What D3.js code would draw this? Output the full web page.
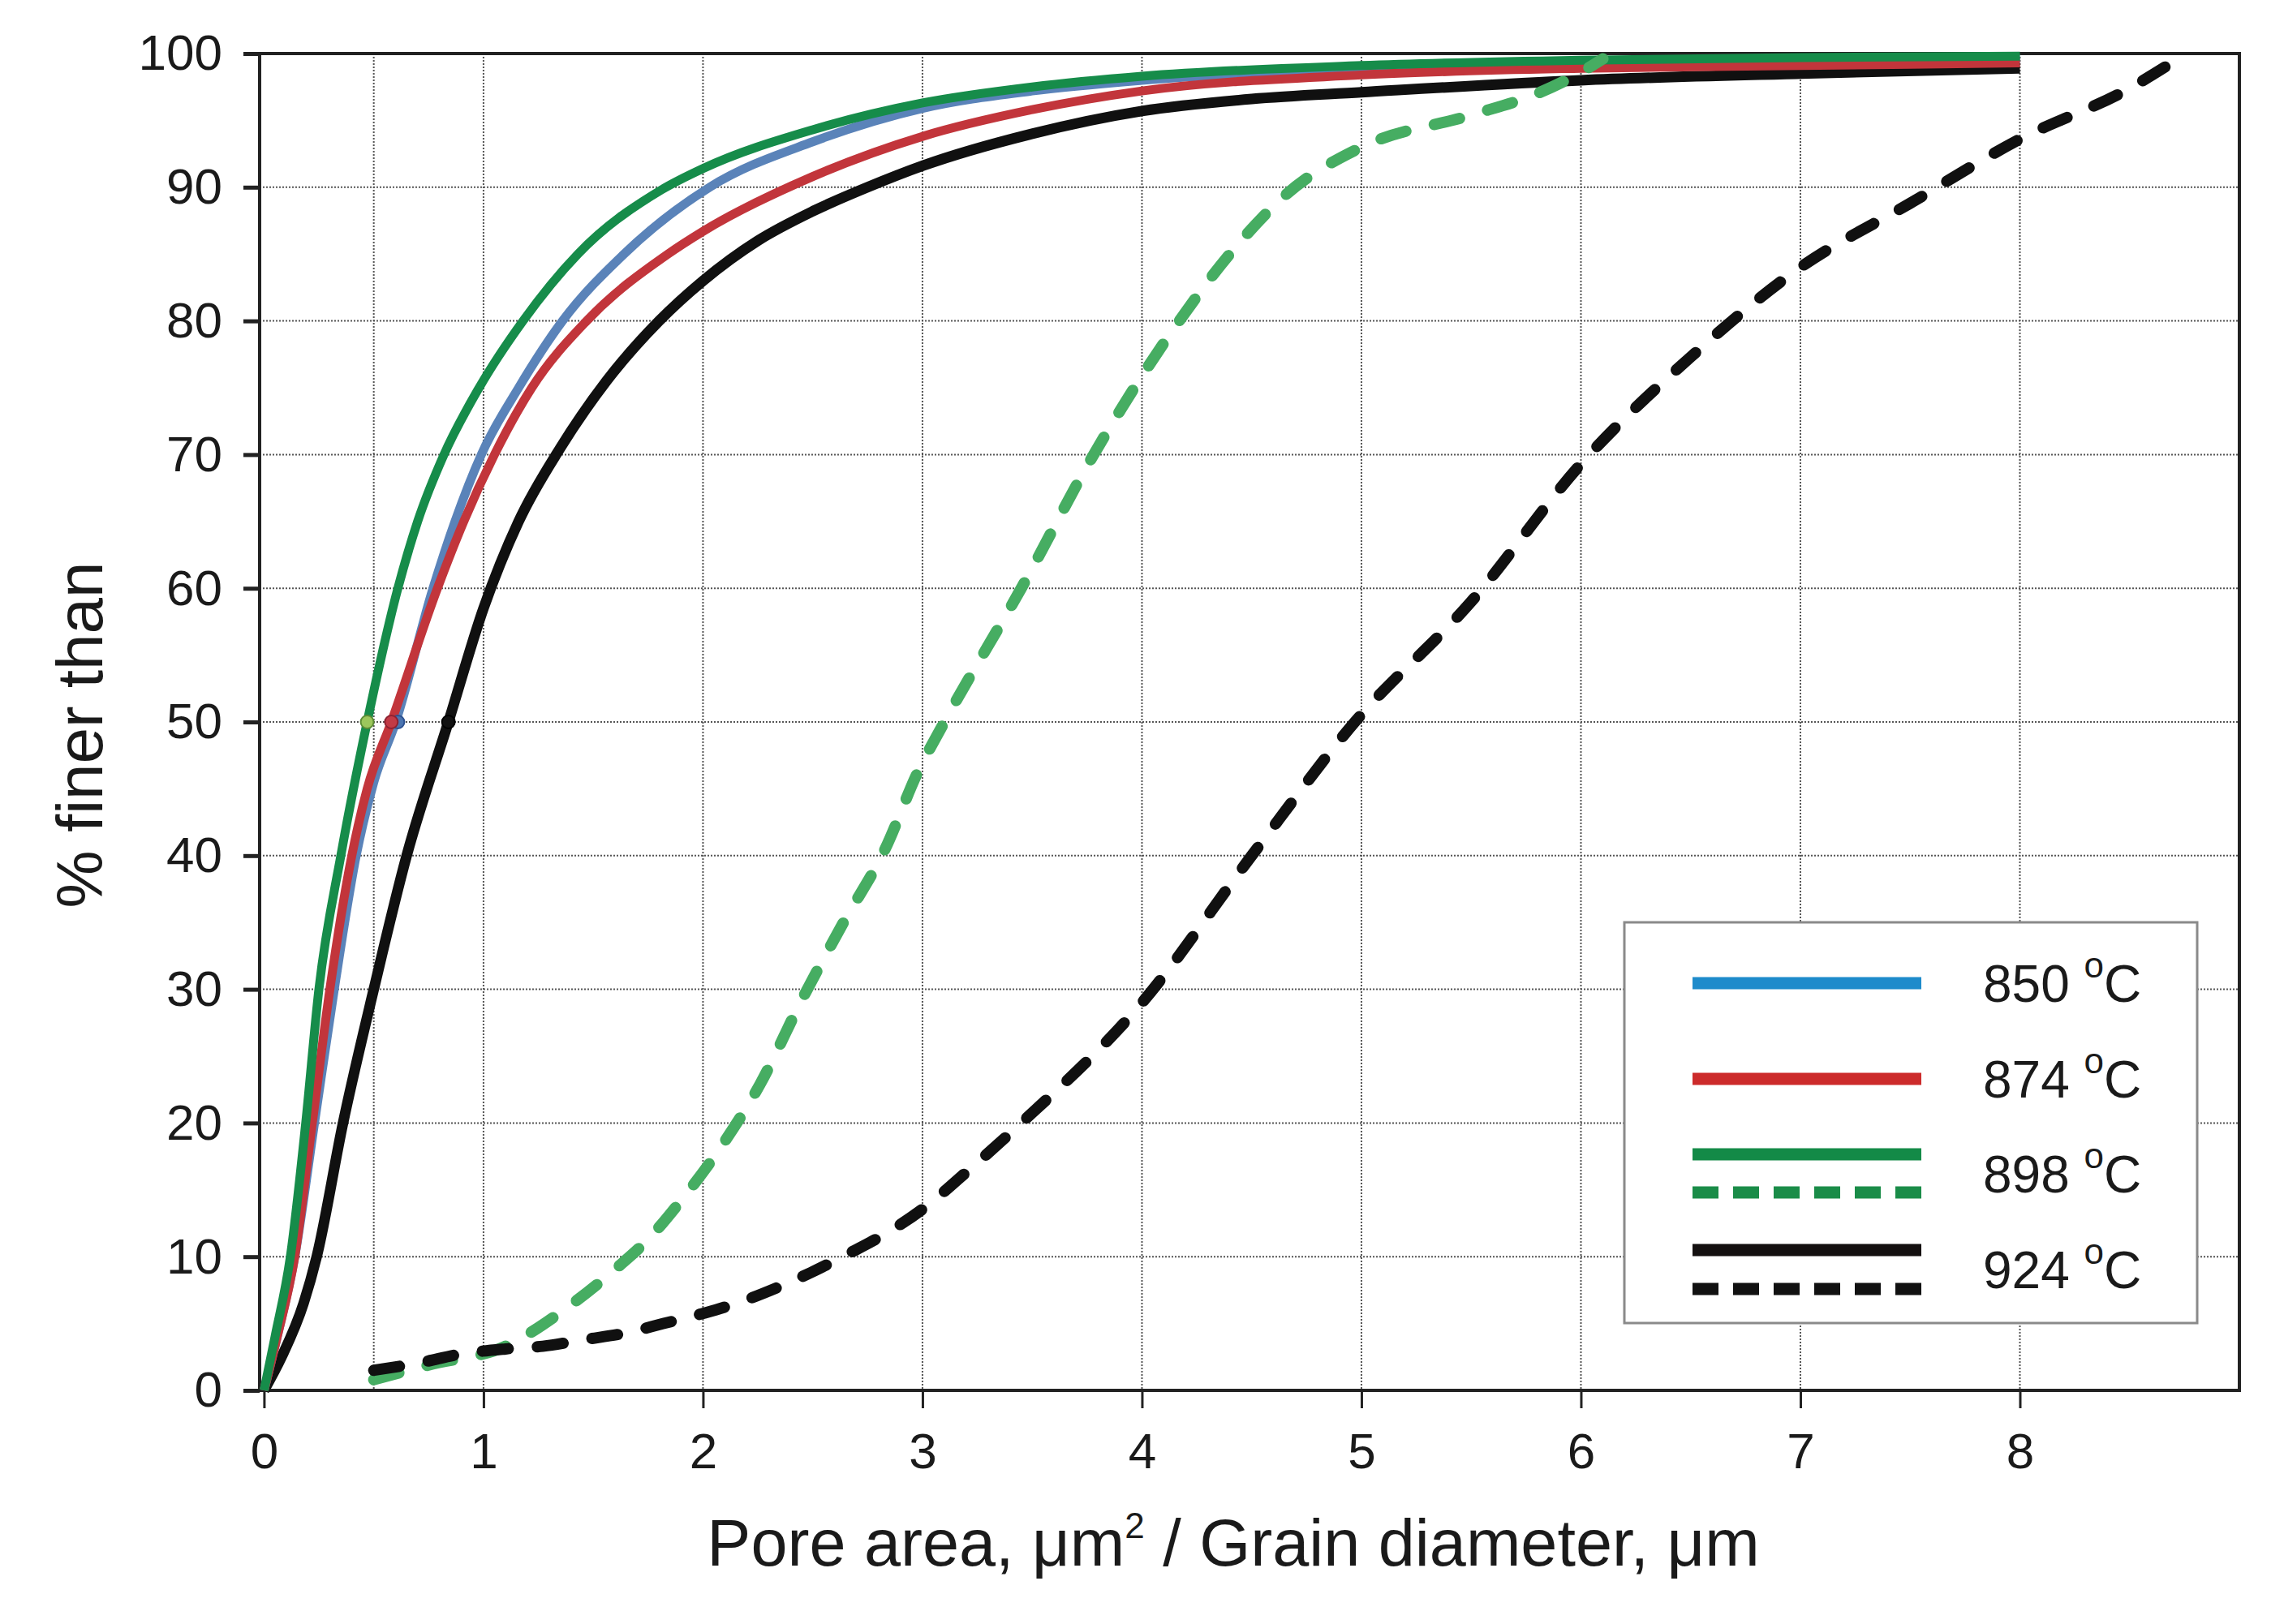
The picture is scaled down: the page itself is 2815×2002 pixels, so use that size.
<!DOCTYPE html>
<html>
<head>
<meta charset="utf-8">
<script src="https://cdn.jsdelivr.net/npm/d3@7"></script>
<style>
  body { margin: 0; background: #fff; }
  text { font-family: "Liberation Sans", Arial, sans-serif; fill: #1a1a1a; }
</style>
</head>
<body>
<script>
// chart size (matches the photographed window)
var width = 2815,
    height = 2002;

// ---- data ----
var xTicks = [0, 1, 2, 3, 4, 5, 6, 7, 8];
var yTicks = [0, 10, 20, 30, 40, 50, 60, 70, 80, 90, 100];
var gridX = [0.5, 1, 2, 3, 4, 5, 6, 7, 8];
var gridY = [10, 20, 30, 40, 50, 60, 70, 80, 90];

// 850 C, pore area
var pore850 = [[0,0],[0.06,4],[0.14,10],[0.23,20],[0.32,30],[0.42,40],[0.50,45.5],[0.60,50],[0.77,60],[0.87,65],[0.99,70],
  [1.16,75],[1.36,80],[1.64,85],[2.03,90],[2.5,93.4],[3,95.9],[3.5,97.2],[4,98.0],[5,98.9],[6,99.3],[7,99.5],[8,99.6]];
// 874 C, pore area
var pore874 = [[0,0],[0.06,4],[0.14,10],[0.22,20],[0.30,30],[0.40,40],[0.47,45],[0.58,50],[0.79,60],[0.91,65],[1.05,70],
  [1.22,75],[1.47,80],[1.84,85],[2,86.7],[2.5,90.8],[3,93.8],[3.5,95.8],[4,97.2],[5,98.4],[6,98.9],[7,99.1],[8,99.3]];
// 898 C, pore area
var pore898 = [[0,0],[0.05,4],[0.12,10],[0.19,20],[0.25,30],[0.35,40],[0.47,50],[0.61,60],[0.70,65],[0.82,70],
  [0.98,75],[1.18,80],[1.43,85],[1.81,89.8],[2,91.4],[2.5,94.3],[3,96.3],[3.5,97.5],[4,98.3],[5,99.1],[6,99.5],[7,99.7],[8,99.8]];
// 924 C, pore area
var pore924 = [[0,0],[0.08,2.5],[0.18,6.5],[0.24,10],[0.36,20],[0.50,30],[0.65,40],[0.84,50],[1.0,58.5],[1.16,65],
  [1.35,70.5],[1.56,75.5],[1.8,80],[2,83],[2.25,86],[2.5,88.2],[2.75,90],[3,91.6],[3.5,94.0],[4,95.7],[4.5,96.6],[5,97.1],
  [6,98.0],[7,98.5],[8,98.9]];
// 898 C, grain diameter
var grain898 = [[0.5,0.8],[0.75,1.9],[1.10,3.3],[1.39,6.3],[1.61,9.2],[1.75,11.3],[1.90,14.2],[2.09,18.4],[2.26,22.9],
  [2.45,29.2],[2.64,35.0],[2.83,40.5],[2.98,46.3],[3.10,50],[3.45,60],[3.78,70],[4.17,80],[4.4,85],[4.66,89.5],[5,93.0],
  [5.5,95.4],[5.8,97.0],[6,98.6],[6.1,99.6]];
// 924 C, grain diameter
var grain924 = [[0.5,1.5],[0.72,2.1],[0.89,2.7],[1.10,3.1],[1.27,3.3],[1.46,3.8],[1.65,4.3],[1.82,5.0],[2.01,5.8],
  [2.15,6.5],[2.34,7.7],[2.49,8.8],[2.66,10.2],[2.85,11.9],[3.02,13.8],[3.17,15.9],[3.45,20],[4,29],[4.5,40],[4.97,50],
  [5.5,59],[6,69.3],[6.5,77.3],[7,84],[7.5,88.8],[8,93.6],[8.5,97.4],[8.72,99.6]];

// median (50 %) markers
var medianX = [0.84, 0.61, 0.58, 0.47];
var medianFill = ["#111", "#4a74b0", "#c23a45", "#9cc75c"];
var medianStroke = ["#000", "#2d5190", "#8d2231", "#5d8c35"];

// legend
var legendLabels = ["850", "874", "898", "924"];

// ---- layout ----
var plotLeft = 320, plotRight = 2760, plotTop = 66, plotBottom = 1714;

var x = d3.scaleLinear().domain([-0.02, 9]).range([plotLeft, plotRight]);
var y = d3.scaleLinear().domain([0, 100]).range([plotBottom, plotTop]);

var svg = d3.select("body")
    .append("svg")
    .attr("width", width)
    .attr("height", height);

svg.append("rect").attr("width", width).attr("height", height).attr("fill", "#fff");

// dotted grid
svg.append("g")
    .selectAll("line")
    .data(gridX)
    .enter().append("line")
    .attr("x1", function(d) { return x(d); })
    .attr("x2", function(d) { return x(d); })
    .attr("y1", plotTop).attr("y2", plotBottom)
    .attr("stroke", "#555").attr("stroke-width", 2).attr("stroke-dasharray", "2,2");

svg.append("g")
    .selectAll("line")
    .data(gridY)
    .enter().append("line")
    .attr("y1", function(d) { return y(d); })
    .attr("y2", function(d) { return y(d); })
    .attr("x1", plotLeft).attr("x2", plotRight)
    .attr("stroke", "#555").attr("stroke-width", 2).attr("stroke-dasharray", "2,2");

// axes
var yAxis = svg.append("g")
    .attr("transform", "translate(" + plotLeft + ",0)")
    .call(d3.axisLeft(y).tickValues(yTicks).tickSize(20).tickPadding(26));
yAxis.select(".domain").remove();
yAxis.selectAll("line").attr("stroke", "#222").attr("stroke-width", 5);
yAxis.selectAll("text").attr("font-size", 62).attr("fill", "#1a1a1a")
    .style("font-family", "'Liberation Sans', Arial, sans-serif");

var xAxis = svg.append("g")
    .attr("transform", "translate(0," + plotBottom + ")")
    .call(d3.axisBottom(x).tickValues(xTicks).tickSize(22).tickPadding(30));
xAxis.select(".domain").remove();
xAxis.selectAll("line").attr("stroke", "#222").attr("stroke-width", 3);
xAxis.selectAll("text").attr("font-size", 62).attr("fill", "#1a1a1a")
    .style("font-family", "'Liberation Sans', Arial, sans-serif");

// plot frame
svg.append("rect")
    .attr("x", plotLeft).attr("y", plotTop)
    .attr("width", plotRight - plotLeft).attr("height", plotBottom - plotTop)
    .attr("fill", "none").attr("stroke", "#222").attr("stroke-width", 4);

// curves
var line = d3.line()
    .x(function(d) { return x(d[0]); })
    .y(function(d) { return y(d[1]); })
    .curve(d3.curveMonotoneX);

var series = [
  { data: pore924, color: "#101010", w: 13, dash: null },
  { data: pore850, color: "#5a83b9", w: 11, dash: null },
  { data: pore874, color: "#c2353b", w: 11, dash: null },
  { data: pore898, color: "#168c4a", w: 11, dash: null },
  { data: grain898, color: "#46ad62", w: 14, dash: "32,36" },
  { data: grain924, color: "#101010", w: 14, dash: "32,36" }
];

svg.append("g")
    .selectAll("path")
    .data(series)
    .enter().append("path")
    .attr("d", function(d) { return line(d.data); })
    .attr("fill", "none")
    .attr("stroke", function(d) { return d.color; })
    .attr("stroke-width", function(d) { return d.w; })
    .attr("stroke-linecap", function(d) { return d.dash ? "round" : "butt"; })
    .attr("stroke-dasharray", function(d) { return d.dash; });

// 50 % markers
svg.append("g")
    .selectAll("circle")
    .data(medianX)
    .enter().append("circle")
    .attr("cx", function(d) { return x(d); })
    .attr("cy", y(50))
    .attr("r", 8)
    .attr("fill", function(d, i) { return medianFill[i]; })
    .attr("stroke", function(d, i) { return medianStroke[i]; })
    .attr("stroke-width", 2);

// legend
var legend = svg.append("g");
legend.append("rect")
    .attr("x", 2002).attr("y", 1137)
    .attr("width", 706).attr("height", 494)
    .attr("fill", "#fff").attr("stroke", "#8a8a8a").attr("stroke-width", 3);

var legendRows = [
  { y: 1212, color: "#1e8bcb", dash: null },
  { y: 1330, color: "#cc2b2b", dash: null },
  { y: 1423, color: "#138a47", dash: null },
  { y: 1470, color: "#1a8c48", dash: "32,18" },
  { y: 1541, color: "#141010", dash: null },
  { y: 1589, color: "#111", dash: "32,18" }
];
legend.selectAll("line")
    .data(legendRows)
    .enter().append("line")
    .attr("x1", 2086).attr("x2", 2368)
    .attr("y1", function(d) { return d.y; })
    .attr("y2", function(d) { return d.y; })
    .attr("stroke", function(d) { return d.color; })
    .attr("stroke-width", 15)
    .attr("stroke-dasharray", function(d) { return d.dash; });

var labelY = [1235, 1353, 1470, 1588];
var labels = legend.selectAll("text.lab")
    .data(legendLabels)
    .enter().append("text")
    .attr("class", "lab")
    .attr("x", 2444)
    .attr("y", function(d, i) { return labelY[i]; })
    .attr("font-size", 64);
labels.append("tspan").text(function(d) { return d + " "; });
labels.append("tspan").attr("font-size", 44).attr("dy", -30).text("o");
labels.append("tspan").attr("font-size", 64).attr("dy", 30).text("C");

// axis titles
var xt = svg.append("text")
    .attr("x", 1520).attr("y", 1930)
    .attr("text-anchor", "middle")
    .attr("font-size", 81);
xt.append("tspan").text("Pore area, μm");
xt.append("tspan").attr("font-size", 44).attr("dy", -34).text("2");
xt.append("tspan").attr("dy", 34).text(" / Grain diameter, μm");

svg.append("text")
    .attr("transform", "translate(126,906) rotate(-90)")
    .attr("text-anchor", "middle")
    .attr("font-size", 80)
    .text("% finer than");
</script>
</body>
</html>
